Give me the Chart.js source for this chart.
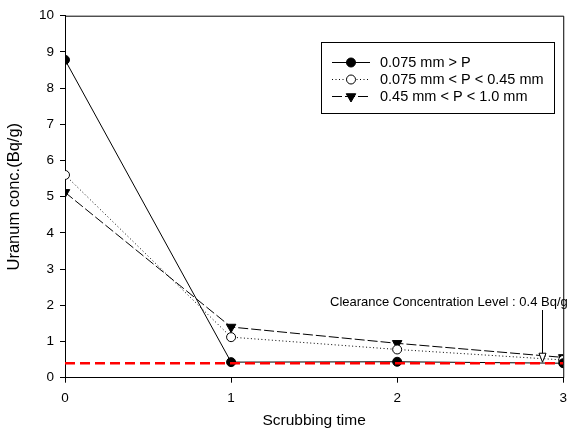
<!DOCTYPE html>
<html>
<head>
<meta charset="utf-8">
<script src="https://cdn.jsdelivr.net/npm/chart.js@4.4.1/dist/chart.umd.min.js"></script>
<style>
  html, body { margin: 0; padding: 0; background: #fff; }
  #wrap { width: 574px; height: 430px; }
</style>
</head>
<body>
<div id="wrap"><canvas id="c" width="574" height="430"></canvas></div>
<script>
// scrubbing time (x) and uranium conc. per particle size
const scrubTimes = [0, 1, 2, 3];
const fineP = [8.78, 0.43, 0.44, 0.4];     // 0.075 mm > P
const midP = [5.6, 1.12, 0.78, 0.49];      // 0.075 mm < P < 0.45 mm
const coarseP = [5.12, 1.4, 0.95, 0.56];   // 0.45 mm < P < 1.0 mm
const clearance = 0.4;
const seriesNames = ["0.075 mm > P", "0.075 mm < P < 0.45 mm", "0.45 mm < P < 1.0 mm"];
const yTicks = [0, 1, 2, 3, 4, 5, 6, 7, 8, 9, 10];

const FONT = "'Liberation Sans', Arial, sans-serif";

function pts(vals) { return vals.map((v, i) => ({ x: scrubTimes[i], y: v })); }

// frame, legend box and clearance note
const extras = {
  id: "extras",
  afterDatasetsDraw(chart) {
    const c = chart.ctx, a = chart.chartArea;
    const ys = chart.scales.y;
    c.save();
    c.strokeStyle = "#000";
    c.lineWidth = 1;
    c.beginPath();
    c.moveTo(a.left, a.top + 0.5);
    c.lineTo(a.right + 0.5, a.top + 0.5);
    c.lineTo(a.right + 0.5, a.bottom);
    c.stroke();

    // legend
    c.fillStyle = "#fff";
    c.fillRect(321.5, 42.5, 233, 71);
    c.strokeRect(321.5, 42.5, 233, 71);
    const rows = [62, 79, 96];
    c.font = "14.5px " + FONT;
    c.textBaseline = "middle";
    chart.data.datasets.slice(0, 3).forEach((ds, i) => {
      const y = rows[i];
      c.setLineDash(ds.borderDash || []);
      c.strokeStyle = "#000";
      c.lineWidth = 1;
      c.beginPath();
      c.moveTo(332, y + 0.5);
      c.lineTo(370, y + 0.5);
      c.stroke();
      c.setLineDash([]);
      c.fillStyle = ds.pointBackgroundColor;
      c.strokeStyle = ds.pointBorderColor;
      Chart.helpers.drawPoint(c, {
        pointStyle: ds.pointStyle, rotation: ds.pointRotation || 0,
        radius: ds.pointRadius, borderWidth: 1
      }, 351, y + 0.5);
      c.fillStyle = "#000";
      c.fillText(seriesNames[i], 380, y + 1);
    });

    // clearance annotation
    c.fillStyle = "#000";
    c.font = "13px " + FONT;
    c.textAlign = "left";
    c.fillText("Clearance Concentration Level : 0.4 Bq/g", 330, 302);
    const ax = 542.5, y0 = 310, y1 = ys.getPixelForValue(clearance) - 1;
    c.beginPath();
    c.moveTo(ax, y0);
    c.lineTo(ax, y1 - 8);
    c.stroke();
    c.fillStyle = "#fff";
    c.beginPath();
    c.moveTo(ax - 3.5, y1 - 9);
    c.lineTo(ax + 3.5, y1 - 9);
    c.lineTo(ax, y1);
    c.closePath();
    c.fill();
    c.stroke();
    c.restore();
  }
};

new Chart(document.getElementById("c"), {
  type: "line",
  data: {
    datasets: [
      {
        label: seriesNames[0], data: pts(fineP),
        borderColor: "#000", borderWidth: 1, borderDash: [],
        pointStyle: "circle", pointRadius: 4.5,
        pointBackgroundColor: "#000", pointBorderColor: "#000", pointBorderWidth: 1
      },
      {
        label: seriesNames[1], data: pts(midP),
        borderColor: "#000", borderWidth: 1, borderDash: [1, 2.5],
        pointStyle: "circle", pointRadius: 4.5,
        pointBackgroundColor: "#fff", pointBorderColor: "#000", pointBorderWidth: 1
      },
      {
        label: seriesNames[2], data: pts(coarseP),
        borderColor: "#000", borderWidth: 1, borderDash: [10, 3],
        pointStyle: "triangle", pointRotation: 180, pointRadius: 5.5,
        pointBackgroundColor: "#000", pointBorderColor: "#000", pointBorderWidth: 1
      },
      {
        label: "clearance", data: scrubTimes.map(t => ({ x: t, y: clearance })),
        borderColor: "#ff0000", borderWidth: 2.5, borderDash: [10, 5],
        pointRadius: 0, order: -1
      }
    ]
  },
  options: {
    responsive: false,
    animation: false,
    layout: { padding: { top: 15.7, right: 1.5, left: 0, bottom: 0 } },
    plugins: { legend: { display: false }, tooltip: { enabled: false } },
    scales: {
      x: {
        type: "linear", min: 0, max: 3,
        afterFit(s) { s.height = 52.3; },
        afterBuildTicks(s) { s.ticks = scrubTimes.map(v => ({ value: v })); },
        grid: { drawOnChartArea: false, drawTicks: true, tickLength: 5, color: "#000" },
        border: { color: "#000", width: 1 },
        ticks: { color: "#000", font: { family: FONT, size: 13.5 }, padding: 7, maxRotation: 0 },
        title: { display: true, text: "Scrubbing time", color: "#000",
                 font: { family: FONT, size: 15.5 }, padding: 0 }
      },
      y: {
        min: 0, max: 10,
        afterFit(s) { s.width = 65; },
        afterBuildTicks(s) { s.ticks = yTicks.map(v => ({ value: v })); },
        grid: { drawOnChartArea: false, drawTicks: true, tickLength: 5, color: "#000" },
        border: { color: "#000", width: 1 },
        ticks: { color: "#000", font: { family: FONT, size: 13.5 }, padding: 6 },
        title: { display: true, text: "Uranum conc.(Bq/g)", color: "#000",
                 font: { family: FONT, size: 16.5 }, padding: { top: 5, bottom: 0 } }
      }
    }
  },
  plugins: [extras]
});
</script>
</body>
</html>
